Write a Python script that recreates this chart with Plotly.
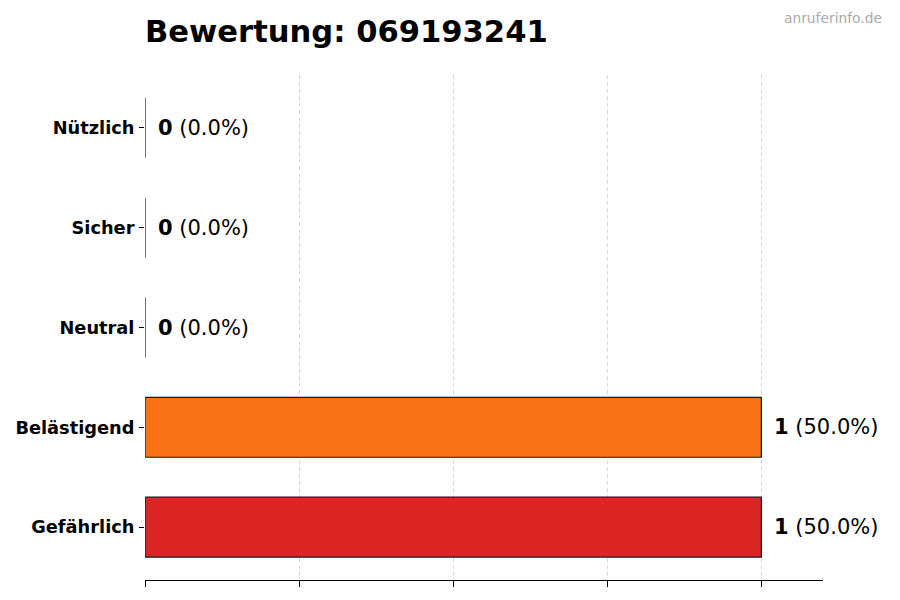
import plotly.graph_objects as go

categories = ["Gefährlich", "Belästigend", "Neutral", "Sicher", "Nützlich"]
counts = [1, 1, 0, 0, 0]
percents = [50.0, 50.0, 0.0, 0.0, 0.0]
colors = ["#DC2626", "#F97316", "#9CA3AF", "#22C55E", "#3B82F6"]
x_ticks = [0, 0.25, 0.5, 0.75, 1.0]
title_text = "Bewertung: 069193241"
watermark = "anruferinfo.de"

FONT = "DejaVu Sans"

fig = go.Figure()
fig.add_trace(go.Bar(
    x=counts,
    y=categories,
    orientation="h",
    width=0.6,
    marker=dict(color=colors, line=dict(color="#1a1a1a", width=1.2)),
    hoverinfo="skip",
))

annotations = []
for c, p, cat in zip(counts, percents, categories):
    annotations.append(dict(
        x=c, y=cat, xref="x", yref="y",
        text=f"<b>{c}</b> ({p:.1f}%)",
        showarrow=False, xanchor="left", yanchor="middle",
        xshift=11,
        font=dict(family=FONT, size=21, color="#000000"),
    ))
annotations.append(dict(
    x=1.0, y=1.0, xref="paper", yref="paper", text=watermark, showarrow=False,
    font=dict(family=FONT, size=13.8, color="#AAAAAA"),
    xanchor="right", yanchor="middle", xshift=61, yshift=57,
))

fig.update_layout(
    width=900, height=600,
    margin=dict(l=137, r=85, t=67, b=28, autoexpand=False),
    paper_bgcolor="white", plot_bgcolor="white",
    showlegend=False,
    title=dict(text=f"<b>{title_text}</b>", x=137/900, xanchor="left",
               y=1 - 23/600, yanchor="middle",
               font=dict(family=FONT, size=30.6, color="#000000")),
    xaxis=dict(
        range=[0, 1.1], tickvals=x_ticks, showticklabels=False,
        ticks="outside", ticklen=6, tickcolor="#000000", tickwidth=1,
        showgrid=True, gridcolor="#D9D9D9", griddash="4px,3px", gridwidth=1,
        showline=True, linecolor="#000000", linewidth=1.2,
        zeroline=False, fixedrange=True, automargin=False,
    ),
    yaxis=dict(
        range=[-0.53, 4.53], categoryorder="array", categoryarray=categories,
        ticks="outside", ticklen=5, tickcolor="#000000",
        tickfont=dict(family=FONT, size=17.8, color="#000000"),
        showgrid=False, showline=False, zeroline=False,
        ticklabelstandoff=1, automargin=False,
    ),
    annotations=annotations,
)
fig.update_yaxes(tickvals=categories, ticktext=[f"<b>{c}</b>" for c in categories])

fig.write_html("out.html")
